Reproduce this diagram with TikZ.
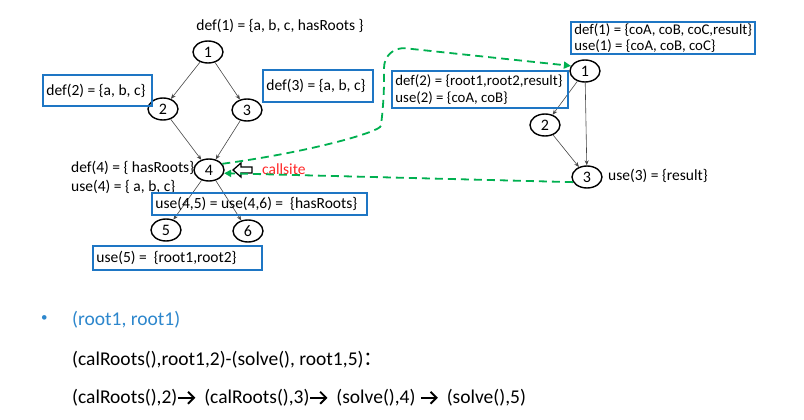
\documentclass[tikz,border=0pt]{standalone}
\usepackage{fontspec}
\setmainfont{Carlito}
\newfontfamily\cjk{Noto Sans CJK SC}
\usetikzlibrary{shapes.geometric,arrows.meta}
\definecolor{boxblue}{RGB}{30,118,196}
\definecolor{txtblue}{RGB}{45,135,205}
\definecolor{dgreen}{RGB}{0,176,80}
\definecolor{cred}{RGB}{255,40,40}
\definecolor{edgegray}{RGB}{70,70,70}
\newcommand{\wdarrow}{\tikz[baseline=0pt,x=1pt,y=1pt]\draw[line width=1.9pt,-{Straight Barb[length=6pt,width=12pt,line width=1.9pt]}] (0,6) -- (17,6);}
\begin{document}
\begin{tikzpicture}[x=1pt,y=-1pt,
  vtx/.style={ellipse,draw,line width=1.4pt,minimum width=30pt,minimum height=22pt,inner sep=0pt,font=\fontsize{16}{18}\selectfont},
  lbl/.style={font=\fontsize{15.5}{18}\selectfont,inner sep=0pt},
  bframe/.style={draw=boxblue,line width=1.5pt,inner sep=0pt},
  btext/.style={font=\fontsize{15.5}{16.5}\selectfont,align=left,inner sep=0pt,anchor=west,xshift=4pt},
  flow/.style={draw=edgegray,line width=0.6pt,-{Stealth[length=5pt,width=4pt]}},
  calledge/.style={draw=dgreen,line width=1.8pt,dash pattern=on 8pt off 5pt,-{Triangle[length=7pt,width=7pt]}},
  big/.style={font=\fontsize{19.5}{22}\selectfont,inner sep=0pt,anchor=west}]
\useasboundingbox[fill=white] (0,0) rectangle (804,420);

% left graph
\node[vtx] (l1) at (208,52) {1};
\node[vtx] (l2) at (163,109) {2};
\node[vtx] (l3) at (247,110) {3};
\node[vtx] (l4) at (209,170) {4};
\node[vtx] (l5) at (166,230) {5};
\node[vtx] (l6) at (248,231) {6};
\draw[flow] (l1) -- (l2);
\draw[flow] (l1) -- (l3);
\draw[flow] (l2) -- (l4);
\draw[flow] (l3) -- (l4);
\draw[flow] (l4) -- (l5);
\draw[flow] (l4) -- (l6);

\node[lbl] (d1) at (280,26) {def(1) = \{a, b, c, hasRoots \}};
\node[bframe,minimum width=109pt,minimum height=31pt] (b2) at (97.5,90.5) {};
\node[btext] (b2t) at (b2.west) {def(2) = \{a, b, c\}};
\node[bframe,minimum width=110pt,minimum height=32pt] (b3) at (318,86) {};
\node[btext] (b3t) at (b3.west) {def(3) = \{a, b, c\}};
\node[lbl,anchor=west] (d4) at (71,168) {def(4) = \{ hasRoots\}};
\node[lbl,anchor=west] (u4) at (71,187) {use(4) = \{ a, b, c\}};
\node[bframe,minimum width=215pt,minimum height=22pt] (b45) at (259.5,204) {};
\node[btext] (b45t) at (b45.west) {use(4,5) = use(4,6) = \ \{hasRoots\}};
\node[bframe,minimum width=169pt,minimum height=24pt] (b5) at (177.5,258) {};
\node[btext] (b5t) at (b5.west) {use(5) = \ \{root1,root2\}};

% callsite pointer
\draw[line width=1.3pt] (233,170) -- (241,163) -- (241,167) -- (252,167) -- (252,173) -- (241,173) -- (241,177) -- cycle;
\node[lbl,anchor=west,text=cred] (cs) at (262,169) {callsite};

% right graph
\node[vtx] (r1) at (585,71) {1};
\node[vtx] (r2) at (545,125) {2};
\node[vtx] (r3) at (587,177) {3};
\draw[flow] (r1) -- (r2);
\draw[flow] (r1) -- (r3);
\draw[flow] (r2) -- (r3);
\node[bframe,minimum width=184pt,minimum height=32pt] (rb1) at (663,38) {};
\node[btext,font=\fontsize{14.8}{16.5}\selectfont] (rb1t) at (rb1.west) {def(1) = \{coA, coB, coC,result\}\\use(1) = \{coA, coB, coC\}};
\node[bframe,minimum width=176pt,minimum height=37pt] (rb2) at (480,89.5) {};
\node[btext,font=\fontsize{14.8}{17}\selectfont] (rb2t) at (rb2.west) {def(2) = \{root1,root2,result\}\\use(2) = \{coA, coB\}};
\node[lbl,anchor=west] (u3) at (608,176) {use(3) = \{result\}};

% call edges
\draw[calledge,rounded corners=22pt] (l4.25) .. controls (310,152) and (380,132) .. (384,104) -- (384,46) -- (r1.160);
\draw[calledge] (r3.200) -- (l4.-12);

% bottom text
\node[big,font=\fontsize{13}{15}\selectfont,text=txtblue] (bul) at (41,319) {•};
\node[big,text=txtblue] (t1) at (72,320) {(root1, root1)};
\node[big] (t2) at (72,360) {(calRoots(),root1,2)-(solve(), root1,5){\cjk ：}};
\node[big] (t3) at (72,398) {(calRoots(),2)\wdarrow\hspace{8pt}(calRoots(),3)\wdarrow\hspace{8pt}(solve(),4) \wdarrow\hspace{8pt}(solve(),5)};
\end{tikzpicture}
\end{document}
